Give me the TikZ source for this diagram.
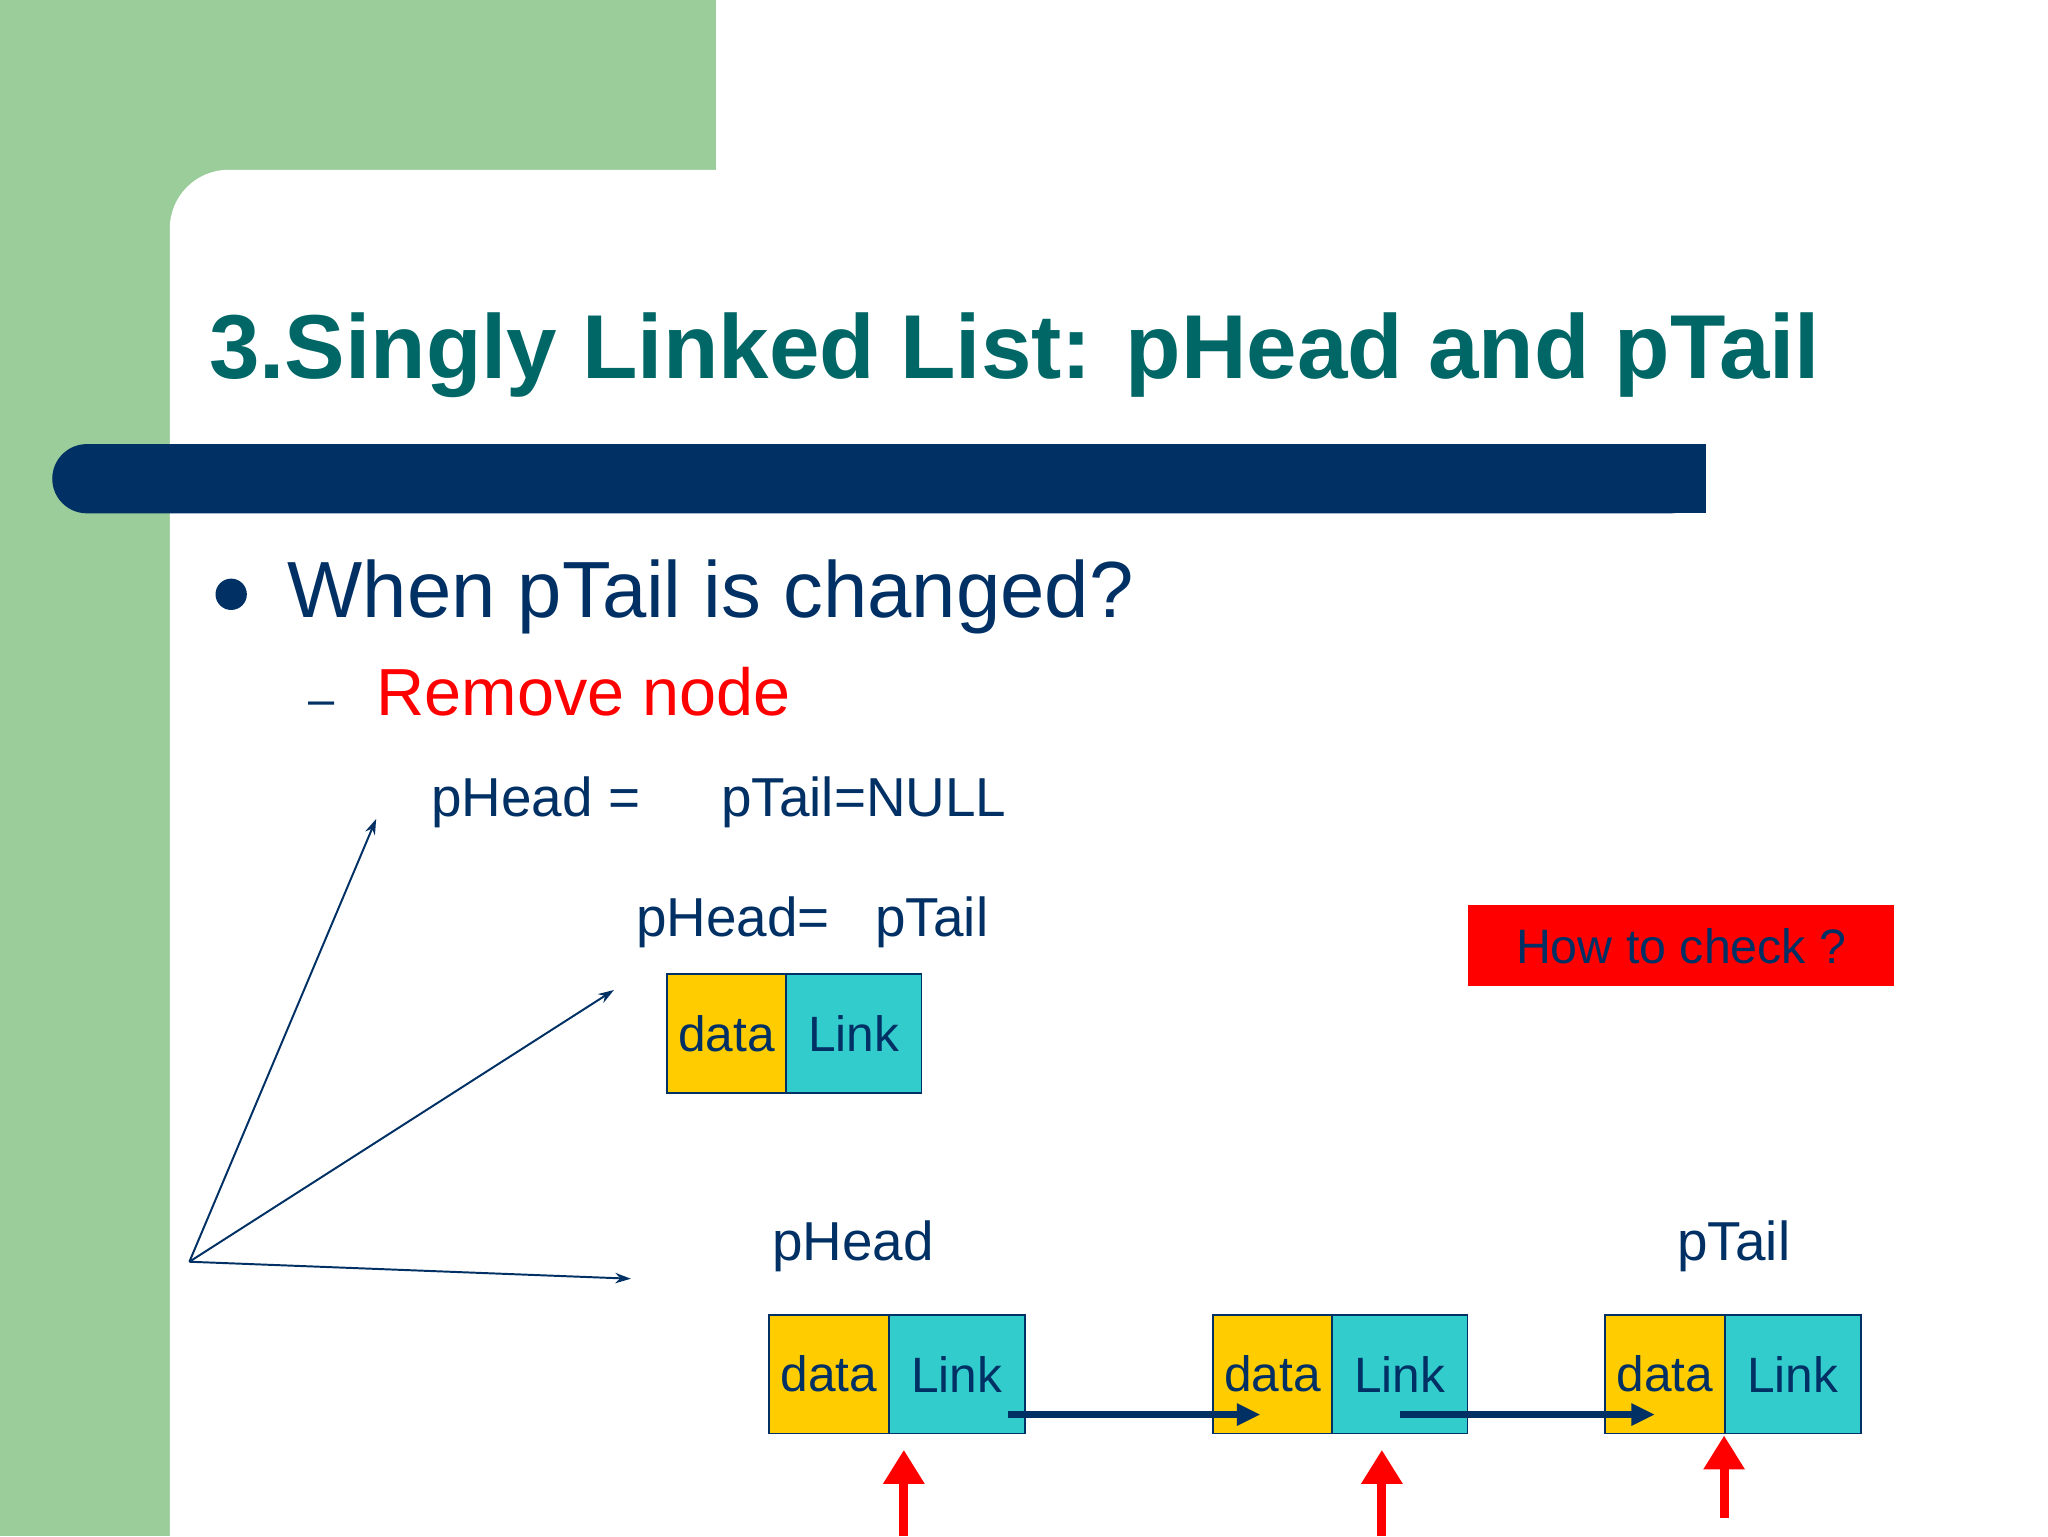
\documentclass[tikz,border=0pt]{standalone}
\usepackage{fontspec}
\setmainfont{Liberation Sans}
\usetikzlibrary{arrows.meta}
\definecolor{sgreen}{RGB}{155,205,155}
\definecolor{navy}{RGB}{0,48,100}
\definecolor{teal2}{RGB}{0,102,102}
\definecolor{dyellow}{RGB}{255,204,0}
\definecolor{dcyan}{RGB}{51,204,204}
\tikzset{
 cell/.style={draw=navy,line width=1.2pt,minimum width=#1,minimum height=91pt,inner sep=0pt,font=\fontsize{38}{40}\selectfont,text=navy,anchor=north west},
 lbl/.style={anchor=base west,inner sep=0pt,text=navy,font=\fontsize{42}{44}\selectfont},
 thin/.style={navy,line width=1.5pt,-{Stealth[length=12pt,width=8pt]}},
 thick/.style={navy,line width=5pt,-{Triangle[length=18pt,width=16pt]}},
 redup/.style={red,line width=7pt,-{Triangle[length=26pt,width=30pt]}}
}
\begin{document}
\begin{tikzpicture}[x=1pt,y=-1pt]
\useasboundingbox (0,0) rectangle (1568,1176);
\fill[white] (0,0) rectangle (1568,1176);
\fill[sgreen] (0,0) rectangle (548,130);
\fill[sgreen] (0,0) rectangle (130,1176);
\fill[sgreen] (130,130) rectangle (180,180);
\fill[white,rounded corners=45pt] (130,1250) -- (130,130) -- (700,130) -- (700,1250) -- cycle;
\node[anchor=base west,inner sep=0pt,text=teal2,font=\bfseries\fontsize{69.5}{72}\selectfont] (title) at (160,290) {3.Singly Linked List: pHead and pTail};
\fill[navy,rounded corners=26.5pt] (40,340) rectangle (1306,393);
\fill[navy] (1000,340) rectangle (1306,393);
\fill[navy] (177,455) circle (12);
\node[anchor=base west,inner sep=0pt,text=navy,font=\fontsize{61}{63}\selectfont] (q) at (220,473) {When pTail is changed?};
\node[anchor=base west,inner sep=0pt,text=navy,font=\fontsize{36}{40}\selectfont] (dash) at (236,548) {–};
\node[anchor=base west,inner sep=0pt,text=red,font=\fontsize{51}{53}\selectfont] (rm) at (288,548) {Remove node};
\node[lbl] (l1a) at (330,625) {pHead =};
\node[lbl] (l1b) at (552,625) {pTail=NULL};
\node[lbl] (l2a) at (487,717) {pHead=};
\node[lbl] (l2b) at (670,717) {pTail};
\node[cell=91pt,fill=dyellow] (d0) at (510,745) {data};
\node[cell=104pt,fill=dcyan] (k0) at (601,745) {Link};
\coordinate (o) at (145,966);
\coordinate (e1) at (288,627);
\coordinate (e2) at (470,758);
\coordinate (e3) at (483,979);
\draw[thin] (o) -- (e1);
\draw[thin] (o) -- (e2);
\draw[thin] (o) -- (e3);
\node[fill=red,minimum width=326pt,minimum height=62pt,anchor=north west,inner sep=0pt,text=navy,font=\fontsize{37}{39}\selectfont] (chk) at (1124,693) {How to check ?};
\node[lbl] (h) at (591,965) {pHead};
\node[lbl] (t) at (1284,965) {pTail};
\node[cell=92pt,fill=dyellow] (d1) at (588,1006) {data};
\node[cell=104pt,fill=dcyan] (k1) at (680,1006) {Link};
\node[cell=91pt,fill=dyellow] (d2) at (928,1006) {data};
\node[cell=104pt,fill=dcyan] (k2) at (1019,1006) {Link};
\node[cell=92pt,fill=dyellow] (d3) at (1228,1006) {data};
\node[cell=104pt,fill=dcyan] (k3) at (1320,1006) {Link};
\coordinate (a1) at (772,1083); \coordinate (b1) at (965,1083);
\coordinate (a2) at (1072,1083); \coordinate (b2) at (1267,1083);
\draw[thick] (a1) -- (b1);
\draw[thick] (a2) -- (b2);
\coordinate (r1) at (692,1176); \coordinate (s1) at (692,1110);
\coordinate (r2) at (1058,1176); \coordinate (s2) at (1058,1110);
\coordinate (r3) at (1320,1162); \coordinate (s3) at (1320,1099);
\draw[redup] (r1) -- (s1);
\draw[redup] (r2) -- (s2);
\draw[redup] (r3) -- (s3);
\end{tikzpicture}
\end{document}
